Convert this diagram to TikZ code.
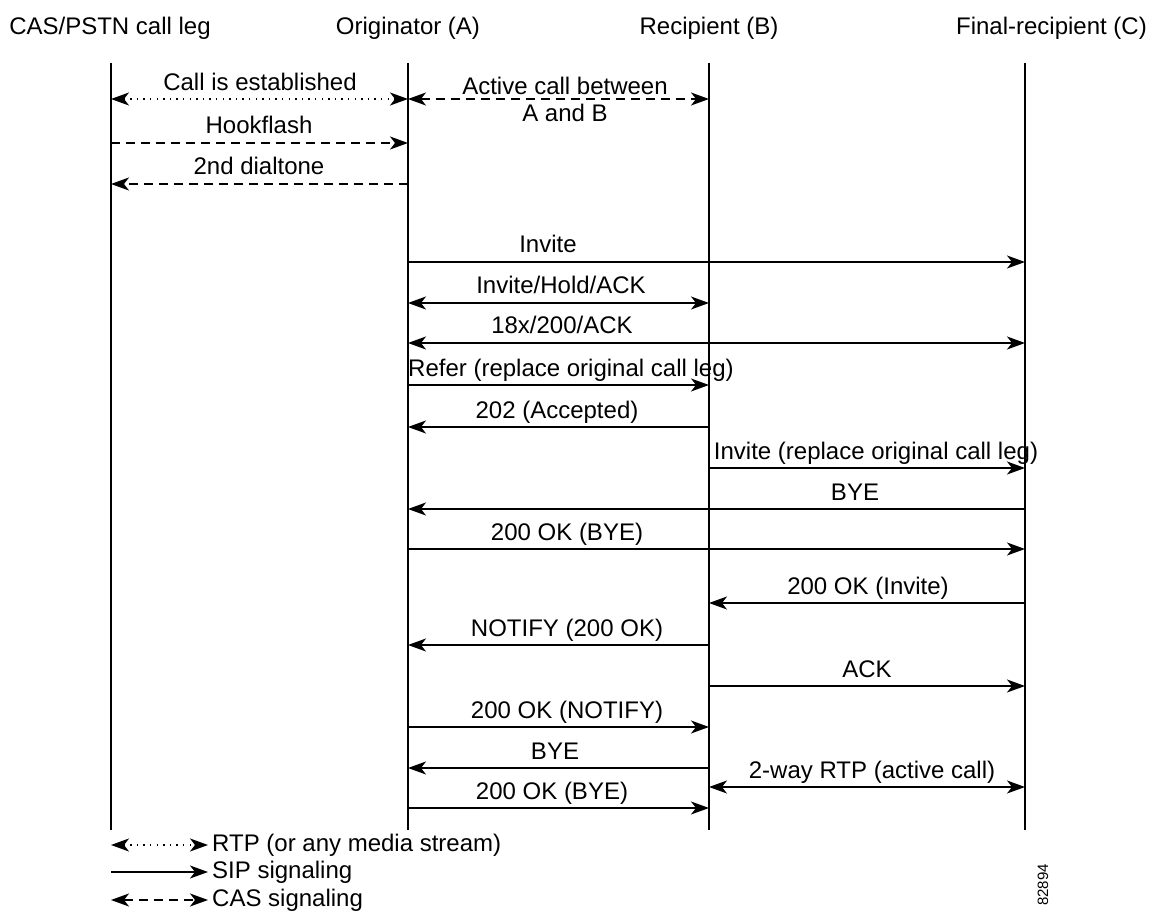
\documentclass[tikz,border=0pt]{standalone}
\usepackage{fontspec}
\setmainfont{Liberation Sans}
\usetikzlibrary{arrows.meta}
\begin{document}
\begin{tikzpicture}[x=1pt,y=-1pt,
  every node/.style={font=\fontsize{24}{28}\selectfont, inner sep=0pt},
  life/.style={line width=1.1pt},
  tip/.style={},
  msg/.style={line width=1.3pt, -{Stealth[length=18pt,width=13pt,inset=5pt]}},
  bmsg/.style={line width=1.3pt, {Stealth[length=18pt,width=13pt,inset=5pt]}-{Stealth[length=18pt,width=13pt,inset=5pt]}},
  rtp/.style={dash pattern=on 1.4pt off 5.2pt},
  cas/.style={dash pattern=on 9pt off 6pt},
  lbl/.style={anchor=base}]
\useasboundingbox (0,0) rectangle (1152,912);
% headers
\node (hA) at (110,28) {CAS/PSTN call leg};
\node (hB) at (408,28) {Originator (A)};
\node (hC) at (709,28) {Recipient (B)};
\node[anchor=east] (hD) at (1147,28) {Final-recipient (C)};
% lifelines
\coordinate (A) at (111,63); \coordinate (Ae) at (111,830);
\coordinate (B) at (408,63); \coordinate (Be) at (408,830);
\coordinate (C) at (709,63); \coordinate (Ce) at (709,830);
\coordinate (D) at (1025,63); \coordinate (De) at (1025,830);
\draw[life] (A) -- (Ae);
\draw[life] (B) -- (Be);
\draw[life] (C) -- (Ce);
\draw[life] (D) -- (De);
% messages
\draw[bmsg,rtp] (A |- 0,99) -- (B |- 0,99);
\node[lbl] (m1) at (260,91) {Call is established};
\draw[bmsg,cas] (B |- 0,99) -- (C |- 0,99);
\node[lbl] (m2) at (565,95) {Active call between};
\node[lbl] (m2b) at (565,122) {A and B};
\draw[msg,cas] (A |- 0,143) -- (B |- 0,143);
\node[lbl] (m3) at (259,134) {Hookflash};
\draw[msg,cas] (B |- 0,184) -- (A |- 0,184);
\node[lbl] (m4) at (259,175) {2nd dialtone};
\draw[msg] (B |- 0,262) -- (D |- 0,262);
\node[lbl] (m5) at (548,253) {Invite};
\draw[bmsg] (B |- 0,303) -- (C |- 0,303);
\node[lbl] (m6) at (561,294) {Invite/Hold/ACK};
\draw[bmsg] (B |- 0,343) -- (D |- 0,343);
\node[lbl] (m7) at (562,334) {18x/200/ACK};
\draw[msg] (B |- 0,385) -- (C |- 0,385);
\node[lbl,anchor=base west] (m8) at (408,376) {Refer (replace original call leg)};
\draw[msg] (C |- 0,427) -- (B |- 0,427);
\node[lbl] (m9) at (557,418) {202 (Accepted)};
\draw[msg] (C |- 0,468) -- (D |- 0,468);
\node[lbl] (m10) at (876,459) {Invite (replace original call leg)};
\draw[msg] (D |- 0,509) -- (B |- 0,509);
\node[lbl] (m11) at (855,500) {BYE};
\draw[msg] (B |- 0,549) -- (D |- 0,549);
\node[lbl] (m12) at (567,540) {200 OK (BYE)};
\draw[msg] (D |- 0,603) -- (C |- 0,603);
\node[lbl] (m13) at (868,594) {200 OK (Invite)};
\draw[msg] (C |- 0,645) -- (B |- 0,645);
\node[lbl] (m14) at (567,636) {NOTIFY (200 OK)};
\draw[msg] (C |- 0,686) -- (D |- 0,686);
\node[lbl] (m15) at (867,677) {ACK};
\draw[msg] (B |- 0,727) -- (C |- 0,727);
\node[lbl] (m16) at (567,718) {200 OK (NOTIFY)};
\draw[msg] (C |- 0,768) -- (B |- 0,768);
\node[lbl] (m17) at (555,759) {BYE};
\draw[bmsg] (C |- 0,787) -- (D |- 0,787);
\node[lbl] (m18) at (872,778) {2-way RTP (active call)};
\draw[msg] (B |- 0,808) -- (C |- 0,808);
\node[lbl] (m19) at (552,799) {200 OK (BYE)};
% legend
\node[anchor=west] (l1) at (212,845) {RTP (or any media stream)};
\node[anchor=west] (l2) at (212,872) {SIP signaling};
\node[anchor=west] (l3) at (212,900) {CAS signaling};
\coordinate (g1) at (111,845);
\coordinate (g2) at (111,872);
\coordinate (g3) at (111,900);
\draw[bmsg,rtp] (g1) -- ([xshift=-4pt]l1.west);
\draw[msg] (g2) -- ([xshift=-4pt]l2.west);
\draw[bmsg,cas] (g3) -- ([xshift=-4pt]l3.west);
\node[rotate=90, font=\fontsize{15}{18}\selectfont] (id) at (1043,885) {82894};
\end{tikzpicture}
\end{document}
